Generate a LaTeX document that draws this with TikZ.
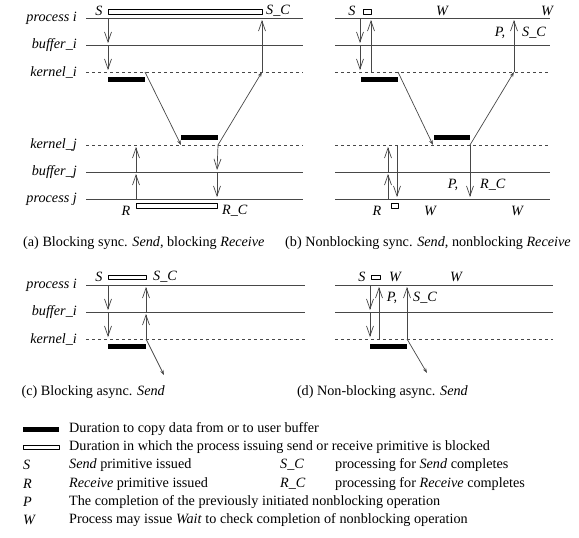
\documentclass[tikz,border=0pt]{standalone}
\usepackage{fontspec}
\setmainfont{Liberation Serif}[Scale=1.42]
\usepackage{tikz}
\usetikzlibrary{arrows.meta}
\usetikzlibrary{positioning}
\definecolor{linegray}{rgb}{0.28,0.28,0.28}
\tikzset{
  row/.style={color=linegray,line width=0.8pt},
  krow/.style={color=linegray,line width=0.8pt,dash pattern=on 3pt off 3pt},
  copybar/.style={fill=black},
  blockbar/.style={draw=black,line width=0.6pt,fill=white},
  msg/.style={color=linegray,line width=0.7pt,-{Straight Barb[length=10pt,width=7pt]},shorten >=2pt},
  wire/.style={color=linegray,line width=0.7pt,-{Stealth[length=5pt,width=3.5pt]}},
  lab/.style={font=\itshape,inner sep=0pt},
  rowlab/.style={font=\itshape,anchor=east,inner sep=0pt},
  captext/.style={anchor=west,inner sep=0pt},
  keytext/.style={anchor=west,inner sep=0pt}
}

\begin{document}
\begin{tikzpicture}[line cap=butt,line join=round,x=1pt,y=-1pt]
\useasboundingbox (0,0) rectangle (579,538);
\foreach \y/\t/\k in {18/process i/row,45/buffer\_i/row,72/kernel\_i/krow,145/kernel\_j/krow,172/buffer\_j/row,199/process j/row}{
  \node[rowlab] (ab-\y) at (77,\y) {\t};
  \draw[\k] (86,\y) -- (303,\y);
  \draw[\k] (335,\y) -- (550,\y);
}
\foreach \y/\t/\k in {285/process i/row,312/buffer\_i/row,339/kernel\_i/krow}{
  \node[rowlab] (cd-\y) at (77,\y) {\t};
  \draw[\k] (86,\y) -- (305,\y);
  \draw[\k] (335,\y) -- (553,\y);
}
% (a)
\coordinate (a-s0) at (108,18);
\coordinate (a-s1) at (108,45);
\coordinate (a-s2) at (108,72);
\coordinate (a-c1) at (145,72);
\coordinate (a-c2) at (181,145);
\coordinate (a-c3) at (218,145);
\coordinate (a-c4) at (262,72);
\coordinate (a-c5) at (262,18);
\coordinate (a-r0) at (136,199);
\coordinate (a-r1) at (136,172);
\coordinate (a-r2) at (136,145);
\coordinate (a-r3) at (217,172);
\coordinate (a-r4) at (217,199);
\draw[blockbar] (108,9.5) rectangle (262,14);
\draw[blockbar] (136,203.5) rectangle (217,208);
\fill[copybar] (108,77) rectangle (145,82);
\fill[copybar] (181,135) rectangle (218,140);
\node[lab] (a-S) at (99,11) {S};
\node[lab,anchor=west] (a-SC) at (266,11) {S\_C};
\node[lab] (a-R) at (126,211) {R};
\node[lab,anchor=west] (a-RC) at (222,211) {R\_C};
\draw[msg] (a-s0) -- (a-s1);
\draw[msg] (a-s1) -- (a-s2);
\draw[wire] (a-c1) -- (a-c2);
\draw[wire] (a-c3) -- (a-c4);
\draw[msg] (a-c4) -- (a-c5);
\draw[msg] (a-r0) -- (a-r1);
\draw[msg] (a-r1) -- (a-r2);
\draw[msg] (a-c3) -- (a-r3);
\draw[msg] (a-r3) -- (a-r4);
\node[captext] (cap-a) at (23,243) {(a) Blocking sync. \textit{Send}, blocking \textit{Receive}};
% (b)
\coordinate (b-s0) at (360,18);
\coordinate (b-s1) at (360,45);
\coordinate (b-s2) at (360,72);
\coordinate (b-u0) at (371,72);
\coordinate (b-u1) at (371,18);
\coordinate (b-c1) at (398,72);
\coordinate (b-c2) at (433,145);
\coordinate (b-c3) at (470,145);
\coordinate (b-c4) at (514,72);
\coordinate (b-c5) at (514,18);
\coordinate (b-c6) at (470,199);
\coordinate (b-r0) at (388,199);
\coordinate (b-r1) at (388,172);
\coordinate (b-r2) at (388,145);
\coordinate (b-d0) at (397,145);
\coordinate (b-d1) at (397,199);
\draw[blockbar] (363,9.5) rectangle (371,14);
\draw[blockbar] (391,203.5) rectangle (398,208);
\fill[copybar] (361,77) rectangle (398,82);
\fill[copybar] (434,135) rectangle (470,140);
\node[lab] (b-S) at (352,11) {S};
\node[lab] (b-W1) at (442,11) {W};
\node[lab] (b-W2) at (547,11) {W};
\node[lab] (b-P1) at (500,33) {P,};
\node[lab,anchor=west] (b-SC) at (522,33) {S\_C};
\node[lab] (b-R) at (377,211) {R};
\node[lab] (b-W3) at (430,211) {W};
\node[lab] (b-W4) at (517,211) {W};
\node[lab] (b-P2) at (453,185) {P,};
\node[lab,anchor=west] (b-RC) at (480,185) {R\_C};
\draw[msg] (b-s0) -- (b-s1);
\draw[msg] (b-s1) -- (b-s2);
\draw[msg] (b-u0) -- (b-u1);
\draw[wire] (b-c1) -- (b-c2);
\draw[wire] (b-c3) -- (b-c4);
\draw[msg] (b-c4) -- (b-c5);
\draw[msg] (b-c3) -- (b-c6);
\draw[msg] (b-r0) -- (b-r1);
\draw[msg] (b-r1) -- (b-r2);
\draw[msg] (b-d0) -- (b-d1);
\node[captext] (cap-b) at (285,243) {(b) Nonblocking sync. \textit{Send}, nonblocking \textit{Receive}};
% (c)
\coordinate (c-s0) at (108,285);
\coordinate (c-s1) at (108,312);
\coordinate (c-s2) at (108,339);
\coordinate (c-u0) at (146,339);
\coordinate (c-u1) at (146,312);
\coordinate (c-u2) at (146,285);
\coordinate (c-out) at (164,375);
\draw[blockbar] (108,275) rectangle (146,279.5);
\fill[copybar] (108,344) rectangle (146,349);
\node[lab] (c-S) at (99,277) {S};
\node[lab,anchor=west] (c-SC) at (153,277) {S\_C};
\draw[msg] (c-s0) -- (c-s1);
\draw[msg] (c-s1) -- (c-s2);
\draw[msg] (c-u0) -- (c-u1);
\draw[msg] (c-u1) -- (c-u2);
\draw[wire] (c-u0) -- (c-out);
\node[captext,anchor=east] (cap-c) at (165,392) {(c) Blocking async. \textit{Send}};
% (d)
\coordinate (d-s0) at (370,285);
\coordinate (d-s1) at (370,312);
\coordinate (d-s2) at (370,339);
\coordinate (d-u0) at (379,339);
\coordinate (d-u1) at (379,285);
\coordinate (d-v0) at (407,339);
\coordinate (d-v1) at (407,285);
\coordinate (d-out) at (427,373);
\draw[blockbar] (371,275) rectangle (380,279.5);
\fill[copybar] (370,344) rectangle (407,349);
\node[lab] (d-S) at (362,277) {S};
\node[lab] (d-W1) at (395,277) {W};
\node[lab] (d-W2) at (456,277) {W};
\node[lab] (d-P) at (392,298) {P,};
\node[lab,anchor=west] (d-SC) at (413,298) {S\_C};
\draw[msg] (d-s0) -- (d-s1);
\draw[msg] (d-s1) -- (d-s2);
\draw[msg] (d-u0) -- (d-u1);
\draw[msg] (d-v0) -- (d-v1);
\draw[wire] (d-v0) -- (d-out);
\node[captext,anchor=east] (cap-d) at (468,392) {(d) Non-blocking async. \textit{Send}};
% legend
\fill[copybar] (23,426.5) rectangle (59,431.5);
\draw[blockbar] (23,445) rectangle (59,449.5);
\node[keytext] (key-copy) at (69,429) {Duration to copy data from or to user buffer};
\node[keytext] (key-block) at (69,447) {Duration in which the process issuing send or receive primitive is blocked};
\foreach \y/\s/\t in {465/S/\textit{Send} primitive issued,484/R/\textit{Receive} primitive issued,502/P/The completion of the previously initiated nonblocking operation,520/W/Process may issue \textit{Wait} to check completion of nonblocking operation}{
  \node[lab,anchor=west] (key-\s) at (23,\y) {\s};
  \node[keytext] (key-\s-txt) at (69,\y) {\t};
}
\node[lab,anchor=west] (key-SC) at (280,465) {S\_C};
\node[keytext] (key-SC-txt) at (335,465) {processing for \textit{Send} completes};
\node[lab,anchor=west] (key-RC) at (280,484) {R\_C};
\node[keytext] (key-RC-txt) at (335,484) {processing for \textit{Receive} completes};
\end{tikzpicture}
\end{document}
